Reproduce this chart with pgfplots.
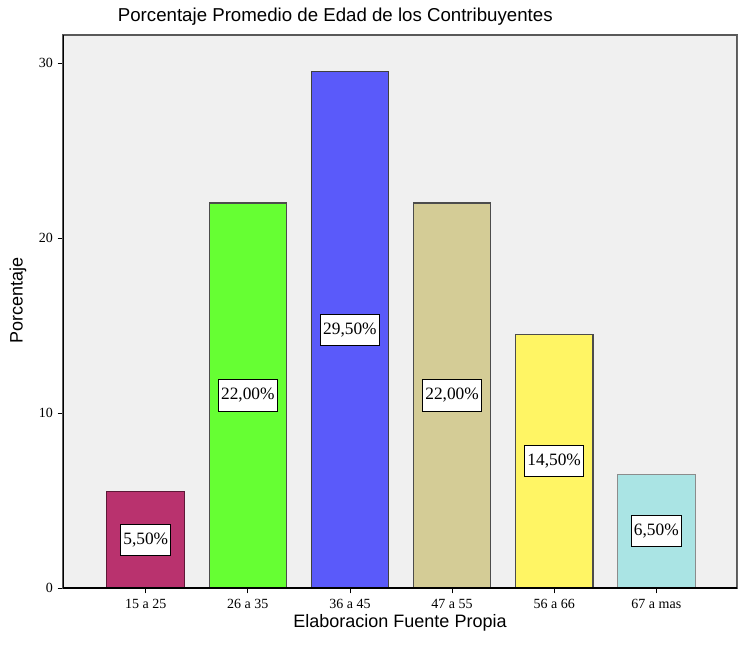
\documentclass[border=0pt]{standalone}
\usepackage{pgfplots}
\usepackage{pgfplotstable}
\usepackage{fontspec}
\pgfplotsset{compat=1.18}
\setmainfont{Liberation Sans}
\newfontfamily\serifnum{Liberation Serif}

\definecolor{plotbg}{RGB}{240,240,240}
\definecolor{cA}{RGB}{185,50,110}
\definecolor{cB}{RGB}{102,255,51}
\definecolor{cC}{RGB}{90,90,250}
\definecolor{cD}{RGB}{212,204,150}
\definecolor{cE}{RGB}{255,245,100}
\definecolor{cF}{RGB}{170,228,228}

% age group (position) and percentage
\pgfplotstableread{
x  pct
0  5.5
1  22.0
2  29.5
3  22.0
4  14.5
5  6.5
}\agedata

\begin{document}
\begin{tikzpicture}
\begin{axis}[
  name=ax,
  scale only axis,
  width=505.5pt, height=414.75pt,
  xmin=-0.81, xmax=5.79,
  ymin=0, ymax=31.6,
  xtick={0,...,5},
  xticklabels={15 a 25, 26 a 35, 36 a 45, 47 a 55, 56 a 66, 67 a mas},
  ytick={0,10,20,30},
  tick pos=left,
  tick align=outside,
  major tick length=4pt,
  tick style={black, line width=0.6pt},
  /pgf/number format/assume math mode=true,
  ticklabel style={font=\serifnum\fontsize{10.5}{12}\selectfont},
  xticklabel style={yshift=-1pt},
  axis background/.style={fill=plotbg},
  axis line style={draw=gray!70!black, line width=1.2pt},
  every axis title shift=0pt,
  title={Porcentaje Promedio de Edad de los Contribuyentes},
  title style={at={(rel axis cs:0.404,1)}, anchor=center, yshift=13.5pt,
    font=\fontsize{14}{16}\selectfont},
  xlabel={Elaboracion Fuente Propia},
  xlabel style={at={(axis description cs:0.5,0)}, anchor=center, yshift=-26.5pt,
    font=\fontsize{13.5}{15}\selectfont},
  ylabel={Porcentaje},
  ylabel style={at={(axis description cs:-0.0668,0.52)}, anchor=center,
    font=\fontsize{13.5}{15}\selectfont},
  bar width=0.76,
  barstyle/.style={ybar, bar shift=0pt, line width=0.8pt},
]
\addplot[barstyle, fill=cA, draw=cA!50!black] table[x=x, y=pct, restrict x to domain=-0.1:0.1]{\agedata};
\addplot[barstyle, fill=cB, draw=black!70] table[x=x, y=pct, restrict x to domain=0.9:1.1]{\agedata};
\addplot[barstyle, fill=cC, draw=black!75] table[x=x, y=pct, restrict x to domain=1.9:2.1]{\agedata};
\addplot[barstyle, fill=cD, draw=black!70] table[x=x, y=pct, restrict x to domain=2.9:3.1]{\agedata};
\addplot[barstyle, fill=cE, draw=black!70] table[x=x, y=pct, restrict x to domain=3.9:4.1]{\agedata};
\addplot[barstyle, fill=cF, draw=black!45] table[x=x, y=pct, restrict x to domain=4.9:5.1]{\agedata};

% percentage labels, centred halfway up each bar
\addplot[draw=none, mark=none, point meta=explicit,
  nodes near coords={\pgfmathprintnumber[fixed,fixed zerofill,precision=2,use comma]{\pgfplotspointmeta}\%},
  nodes near coords align=center,
  every node near coord/.style={anchor=center, fill=white, draw=black, line width=0.9pt,
    inner xsep=2pt, inner ysep=6.5pt, font=\serifnum\fontsize{13}{15}\selectfont}]
  table[x=x, y expr=\thisrow{pct}/2, meta=pct]{\agedata};

\draw[black, line width=1.2pt] (rel axis cs:0,1) -- (rel axis cs:0,0) -- (rel axis cs:1,0);
\draw[gray!50, line width=0.6pt] (rel axis cs:1,0) -- (rel axis cs:1,1);
\end{axis}
\pgfresetboundingbox
\path[use as bounding box] ([xshift=-47.25pt,yshift=-43.5pt]ax.south west)
  rectangle ([xshift=1.5pt,yshift=26.25pt]ax.north east);
\end{tikzpicture}
\end{document}
